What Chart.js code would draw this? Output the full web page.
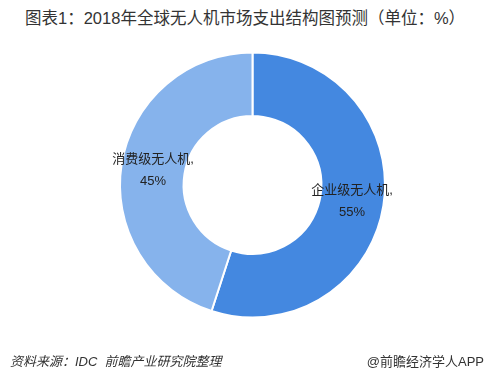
<!DOCTYPE html>
<html>
<head>
<meta charset="utf-8">
<script src="https://cdn.jsdelivr.net/npm/chart.js@4.4.1/dist/chart.umd.min.js"></script>
<style>
	html, body { margin: 0; padding: 0; background: #fff; }
	body { width: 486px; height: 377px; position: relative; overflow: hidden; font-family: "Liberation Sans", "Noto Sans CJK SC", sans-serif; }
	#chart { position: absolute; left: 0; top: 0; }
	.title { position: absolute; left: 25px; top: 5px; font-size: 16.5px; color: #333; white-space: nowrap; }
	.source { position: absolute; left: 10px; top: 351px; font-size: 13px; font-style: italic; color: #333; white-space: nowrap; }
	.brand { position: absolute; right: 2px; top: 351px; font-size: 13px; color: #333; white-space: nowrap; }
</style>
</head>
<body>
<div class="title">图表1：2018年全球无人机市场支出结构图预测（单位：%）</div>
<canvas id="chart" width="486" height="377"></canvas>
<div class="source">资料来源：IDC&nbsp;&nbsp;前瞻产业研究院整理</div>
<div class="brand">@前瞻经济学人APP</div>
<script>
const categories = ["企业级无人机", "消费级无人机"];
const shares = [55, 45];
const sliceColors = ["#4488e0", "#86b3ec"];

// draws "name," and "xx%" on each slice centroid
const sliceLabels = {
	id: "sliceLabels",
	afterDatasetsDraw(chart) {
		const ctx = chart.ctx;
		const meta = chart.getDatasetMeta(0);
		ctx.save();
		ctx.font = '13px "Liberation Sans", "Noto Sans CJK SC", sans-serif';
		ctx.fillStyle = "#222";
		ctx.textAlign = "center";
		ctx.textBaseline = "middle";
		meta.data.forEach((arc, i) => {
			const p = arc.tooltipPosition();
			ctx.fillText(categories[i] + ",", p.x, p.y - 10);
			ctx.fillText(shares[i] + "%", p.x, p.y + 12);
		});
		ctx.restore();
	},
};

const chart = new Chart(document.getElementById("chart").getContext("2d"), {
	type: "doughnut",
	data: {
		labels: categories,
		datasets: [
			{
				data: shares,
				backgroundColor: sliceColors,
				borderColor: "#ffffff",
				borderWidth: 2,
			},
		],
	},
	options: {
		responsive: false,
		animation: false,
		cutout: "52%",
		layout: {
			padding: { left: 119, right: 100, top: 51.5, bottom: 58.5 },
		},
		plugins: {
			legend: { display: false },
			tooltip: { enabled: false },
		},
	},
	plugins: [sliceLabels],
});
</script>
</body>
</html>
